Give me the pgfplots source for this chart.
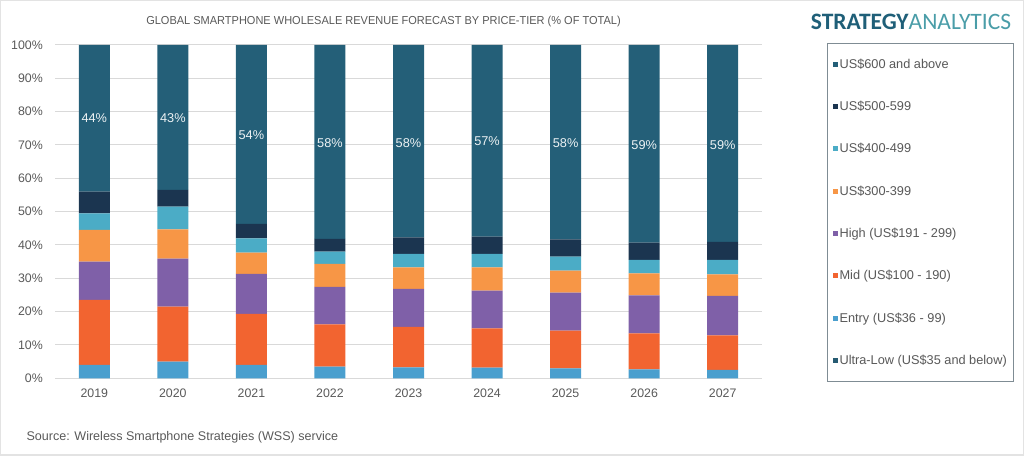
\documentclass[border=0pt]{standalone}
\usepackage{pgfplots}
\usepackage{pgfplotstable}
\pgfplotsset{compat=1.18}
\usepackage{fontspec}
\setmainfont{Liberation Sans}
\newfontfamily\logofont{Carlito}
\definecolor{cTop}{HTML}{245F78}
\definecolor{cFive}{HTML}{1B3550}
\definecolor{cFour}{HTML}{4BACC6}
\definecolor{cThree}{HTML}{F79646}
\definecolor{cHigh}{HTML}{7F60A8}
\definecolor{cMid}{HTML}{F26430}
\definecolor{cEntry}{HTML}{4A9FCE}
\definecolor{cUltra}{HTML}{265B72}
\definecolor{gridc}{HTML}{D9D9D9}
\definecolor{txtc}{HTML}{595959}
\definecolor{legc}{HTML}{7F8C94}
\definecolor{logoA}{HTML}{1F5F78}
\definecolor{logoB}{HTML}{4A9DA8}

\pgfplotstableread{
x ultra entry mid high three four five top
0 0 4.0 19.5 11.5 9.5 5.0 6.5 44.0
1 0 5.0 16.5 14.4 8.8 6.8 5.0 43.5
2 0 4.0 15.3 12.0 6.4 4.3 4.3 53.7
3 0 3.5 12.7 11.2 6.9 3.7 3.8 58.2
4 0 3.3 12.1 11.4 6.5 4.0 5.0 57.7
5 0 3.2 11.8 11.3 7.0 4.0 5.2 57.5
6 0 3.0 11.3 11.4 6.6 4.2 5.2 58.3
7 0 2.7 10.8 11.4 6.6 4.0 5.2 59.3
8 0 2.5 10.4 11.8 6.5 4.3 5.4 59.1
}\datatable

\begin{document}
\begin{tikzpicture}[x=1bp,y=1bp]
\path (0,0) rectangle (1024,456);
\draw[gray!22, line width=1.5bp] (0.75,0.75) rectangle (1023.25,455.25);

\begin{axis}[
  at={(55bp,77.7bp)}, anchor=south west,
  scale only axis, width=707bp, height=333.3bp,
  ybar stacked, bar width=31bp,
  xmin=-0.5, xmax=8.5, ymin=0, ymax=100,
  xtick={0,...,8}, xticklabels={2019,2020,2021,2022,2023,2024,2025,2026,2027},
  ytick={0,10,...,100},
  yticklabel={\pgfmathprintnumber{\tick}\%},
  ymajorgrids, grid style={draw=gridc, line width=1bp},
  separate axis lines,
  axis x line*=bottom, axis y line*=left,
  x axis line style={draw=gridc, line width=1bp, -},
  y axis line style={draw=none},
  major tick length=0pt,
  tick style={draw=none},
  ticklabel style={font=\fontsize{12.4}{14}\selectfont, text=txtc},
  yticklabel style={anchor=east, inner sep=0pt, xshift=-12bp},
  xticklabel style={anchor=north, inner sep=0pt, yshift=-10bp},
  /pgf/number format/assume math mode=true,
  legend style={at={(axis description cs:1.092,1.006)}, anchor=north west,
    draw=legc, line width=1bp, inner xsep=5bp, inner ysep=13.2bp,
    font=\fontsize{12.8}{14}\selectfont, text=txtc, row sep=27.4bp,
    cells={anchor=west}},
  legend image code/.code={\fill[#1,draw=none] (0bp,-2.5bp) rectangle (5bp,2.5bp);},
  reverse legend,
]
\addplot[fill=cUltra, draw=none] table[x=x,y=ultra]{\datatable};
\addlegendentry{Ultra-Low (US\$35 and below)}
\addplot[fill=cEntry, draw=none] table[x=x,y=entry]{\datatable};
\addlegendentry{Entry (US\$36 - 99)}
\addplot[fill=cMid, draw=none] table[x=x,y=mid]{\datatable};
\addlegendentry{Mid (US\$100 - 190)}
\addplot[fill=cHigh, draw=none] table[x=x,y=high]{\datatable};
\addlegendentry{High (US\$191 - 299)}
\addplot[fill=cThree, draw=none] table[x=x,y=three]{\datatable};
\addlegendentry{US\$300-399}
\addplot[fill=cFour, draw=none] table[x=x,y=four]{\datatable};
\addlegendentry{US\$400-499}
\addplot[fill=cFive, draw=none] table[x=x,y=five]{\datatable};
\addlegendentry{US\$500-599}
\addplot[fill=cTop, draw=none] table[x=x,y=top]{\datatable};
\addlegendentry{US\$600 and above}
\end{axis}

\begin{axis}[
  at={(55bp,77.7bp)}, anchor=south west,
  scale only axis, width=707bp, height=333.3bp,
  xmin=-0.5, xmax=8.5, ymin=0, ymax=100, hide axis,
]
\addplot[only marks, mark=*, mark size=0pt, mark options={draw=none,fill=none},
  nodes near coords, point meta=explicit symbolic,
  every node near coord/.style={anchor=center, inner sep=0pt,
    font=\fontsize{12.8}{14}\selectfont, text=white!92!cTop}]
  coordinates {(0,78)[44\%] (1,78.2)[43\%] (2,73)[54\%] (3,70.7)[58\%] (4,70.7)[58\%]
               (5,71.3)[57\%] (6,70.5)[58\%] (7,70)[59\%] (8,70)[59\%]};
\end{axis}

\node[font=\fontsize{11.6}{13}\selectfont, text=txtc] at (383.5,434.5) {\scalebox{0.952}[1]{GLOBAL SMARTPHONE WHOLESALE REVENUE FORECAST BY PRICE-TIER (\% OF TOTAL)}};
\node[anchor=west, font=\fontsize{12.6}{14}\selectfont, text=txtc] at (23,19) {Source: Wireless Smartphone Strategies (WSS) service};
\node[font=\logofont\fontsize{23.6}{26}\selectfont, inner sep=0pt] at (911,434) {\textcolor{logoA}{\bfseries STRATEGY}\textcolor{logoB}{ANALYTICS}};
\end{tikzpicture}
\end{document}
